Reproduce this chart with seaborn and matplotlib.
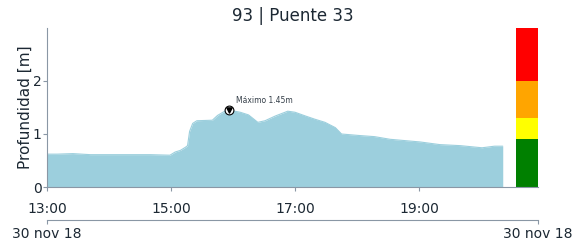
import matplotlib
matplotlib.use("Agg")
import matplotlib.dates as mdates
import matplotlib.pyplot as plt
import pandas as pd
import seaborn as sns

# Depth readings (time of day, metres)
times = ["13:00", "13:10", "13:25", "13:42", "14:00", "14:20", "14:40", "14:59", "15:04", "15:09",
         "15:14", "15:16", "15:18", "15:21", "15:25", "15:40", "15:45", "15:52", "15:56", "16:07",
         "16:15", "16:24", "16:31", "16:41", "16:53", "17:00", "17:10", "17:19", "17:29", "17:39",
         "17:45", "18:03", "18:17", "18:32", "19:01", "19:20", "19:40", "20:01", "20:13", "20:21"]
depth = [0.62, 0.62, 0.63, 0.61, 0.61, 0.61, 0.61, 0.60, 0.66, 0.69,
         0.75, 0.78, 1.05, 1.20, 1.25, 1.26, 1.35, 1.43, 1.45, 1.41,
         1.36, 1.22, 1.25, 1.34, 1.43, 1.41, 1.34, 1.28, 1.22, 1.12,
         1.00, 0.97, 0.95, 0.90, 0.85, 0.80, 0.78, 0.74, 0.77, 0.77]

# Alert levels shown as a coloured bar on the right
level_bounds = [0.0, 0.9, 1.3, 2.0, 3.0]
level_colors = ["#008000", "#ffff00", "#ffa500", "#ff0000"]

max_label = "Máximo 1.45m"
date_label = "30 nov 18"
title = "93 | Puente 33"

text_color = "#1c2833"
spine_color = "#8a97a5"
fill_color = "#9ccfdd"

sns.set_theme(style="white")
plt.rcParams["font.family"] = ["DejaVu Sans"]

day = "2018-11-30 "
df = pd.DataFrame({"time": pd.to_datetime([day + t for t in times]), "depth": depth})

fig = plt.figure(figsize=(5.83, 2.41), dpi=100)
ax = fig.add_axes([0.0806, 0.224, 0.842, 0.660])

ax.fill_between(df["time"], 0, df["depth"], color=fill_color, linewidth=0)
sns.lineplot(data=df, x="time", y="depth", color=fill_color, linewidth=0.8, ax=ax)

# Maximum marker
imax = df["depth"].idxmax()
tmax, vmax = df.loc[imax, "time"], df.loc[imax, "depth"]
ax.scatter([tmax], [vmax], s=40, color="white", edgecolor="black", linewidth=0.8, zorder=4)
ax.scatter([tmax], [vmax], s=14, marker="v", color="black", zorder=5)
ax.annotate(max_label, (tmax, vmax), xytext=(5, 5), textcoords="offset points",
            fontsize=5.5, color="#333d47")

# Alert level bar
x_start = pd.Timestamp(day + "13:00")
x_end = pd.Timestamp(day + "20:55")
bar_left = pd.Timestamp(day + "20:34")
for lo, hi, c in zip(level_bounds[:-1], level_bounds[1:], level_colors):
    ax.fill_between([bar_left, x_end], lo, hi, color=c, linewidth=0)

ax.set_xlim(x_start, x_end)
ax.set_ylim(0, 3)
ax.set_yticks([0, 1, 2])
ax.set_xticks(pd.to_datetime([day + h for h in ["13:00", "15:00", "17:00", "19:00"]]))
ax.xaxis.set_major_formatter(mdates.DateFormatter("%H:%M"))
ax.set_xlabel("")
ax.set_ylabel("Profundidad [m]", fontsize=11, color=text_color, labelpad=-0.5)
ax.set_title(title, fontsize=12, color=text_color, pad=5)

for s in ["top", "right"]:
    ax.spines[s].set_visible(False)
for s in ["left", "bottom"]:
    ax.spines[s].set_color(spine_color)
    ax.spines[s].set_linewidth(0.8)
ax.tick_params(axis="x", colors=spine_color, labelcolor=text_color, labelsize=10,
               length=3, width=0.8, bottom=True, pad=8)
ax.tick_params(axis="y", colors=spine_color, labelcolor=text_color, labelsize=10,
               length=3, width=0.8, left=True, pad=1)

# Date axis below
sec = ax.secondary_xaxis(-0.21)
sec.set_xticks([x_start, x_end])
sec.set_xticklabels([date_label, date_label])
sec.spines["bottom"].set_color(spine_color)
sec.spines["bottom"].set_linewidth(0.8)
sec.tick_params(axis="x", colors=spine_color, labelcolor=text_color, labelsize=10,
                length=3, width=0.8, pad=2)

fig.savefig("out.png", dpi=100)
